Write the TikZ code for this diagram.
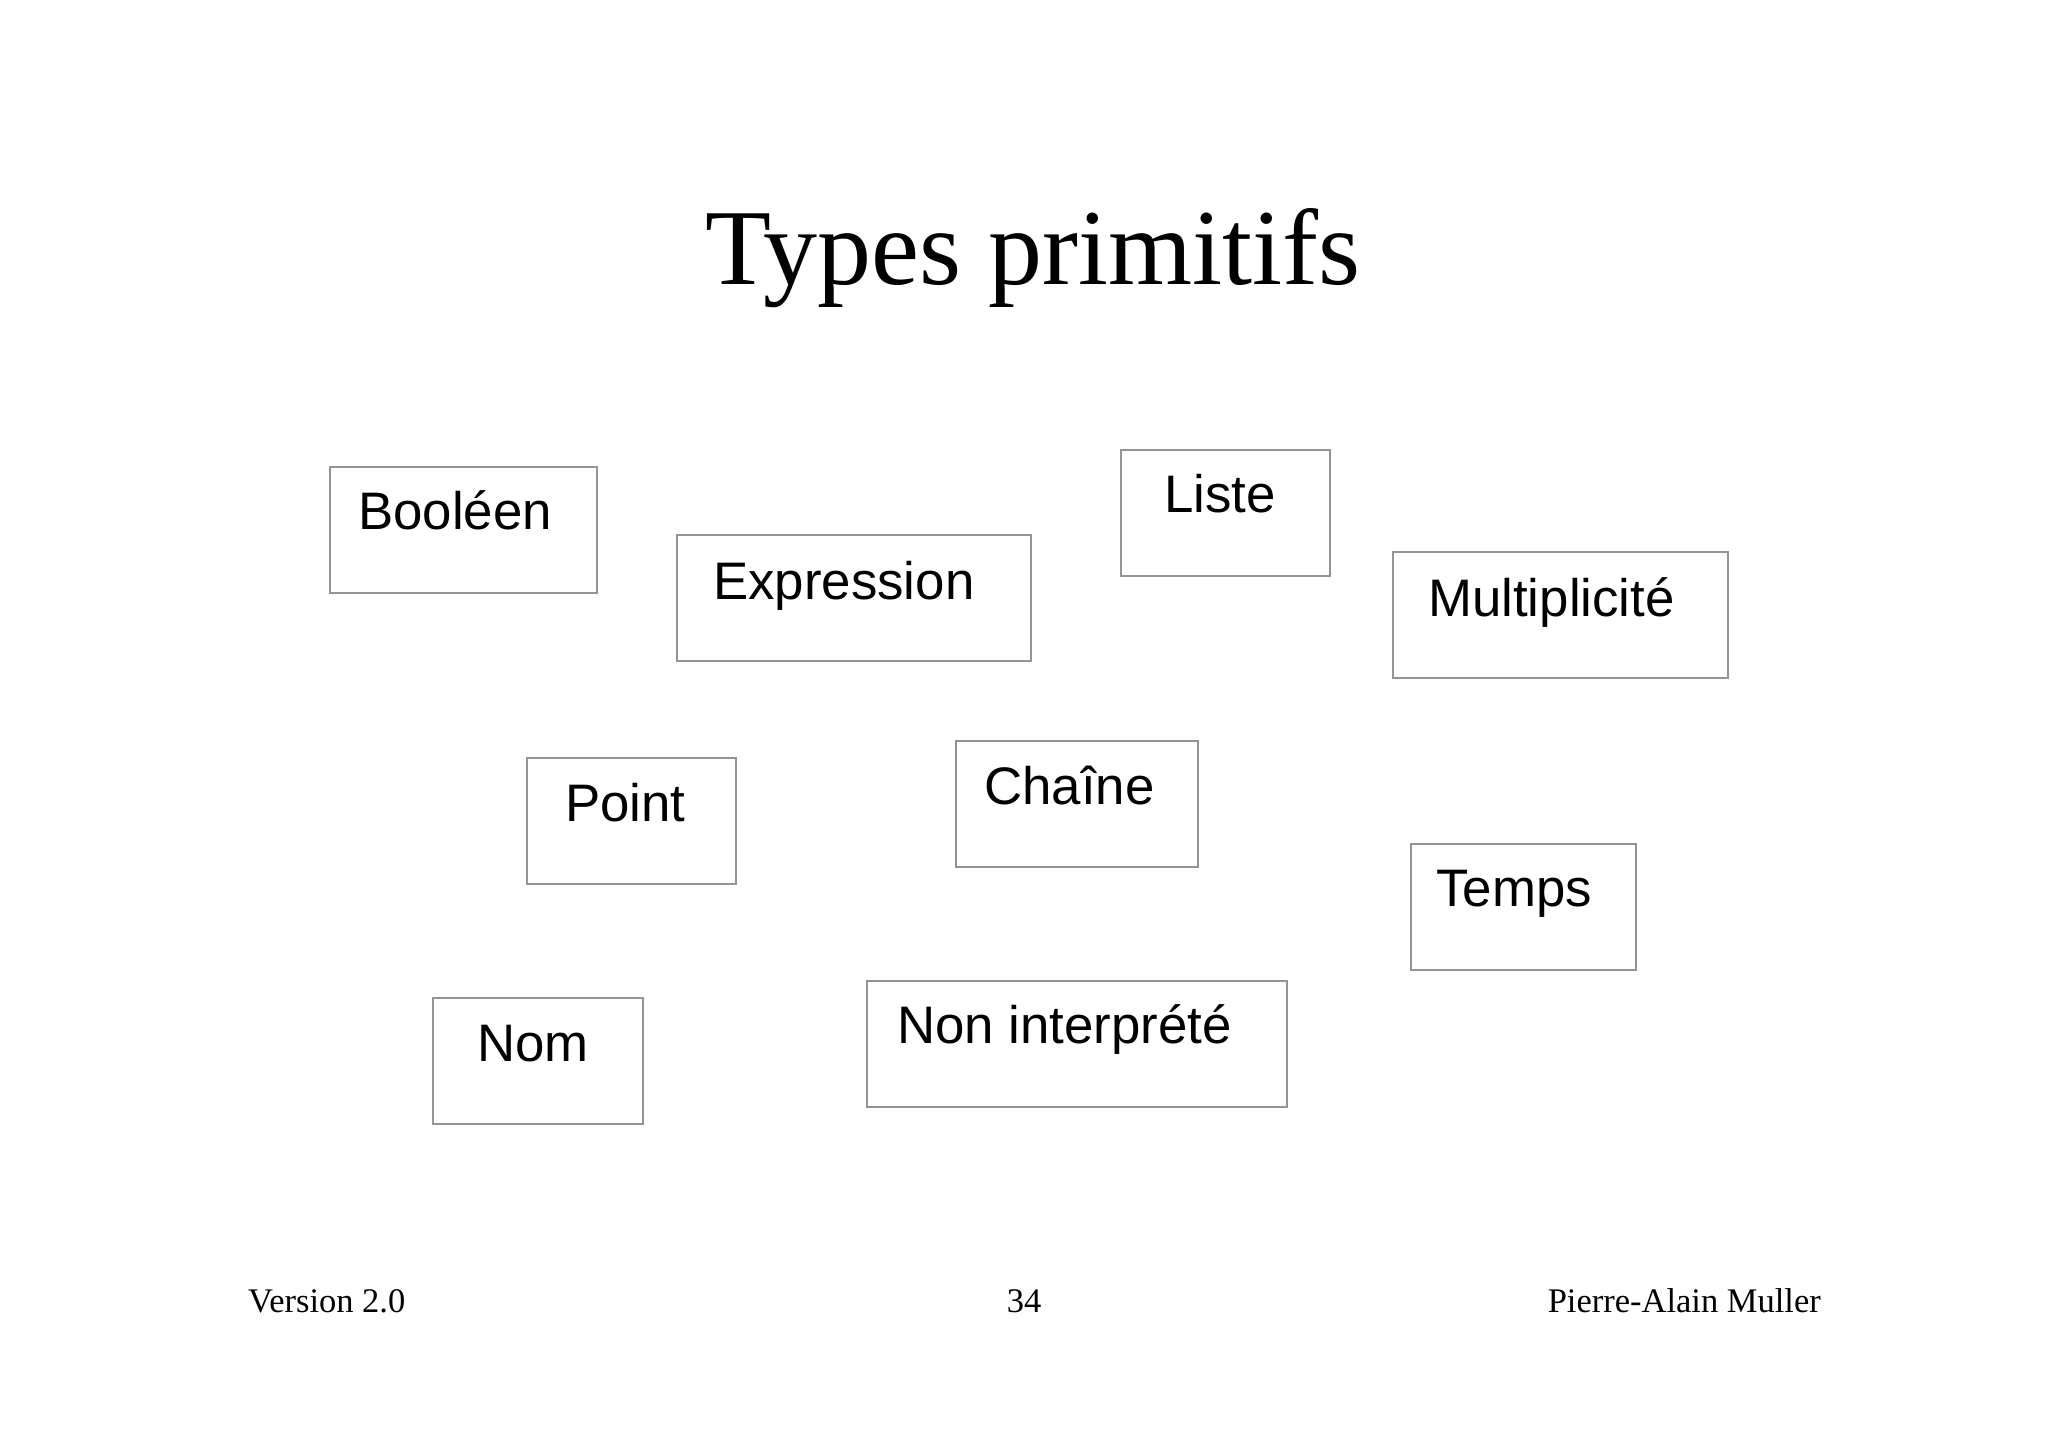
\documentclass[tikz,border=0pt]{standalone}
\usepackage{fontspec}
\setmainfont{Liberation Serif}
\newfontfamily\boxfont{Liberation Sans}
\usepackage{tikz}

\begin{document}
\begin{tikzpicture}[x=1pt,y=-1pt,
   tbox/.style={draw=black!42,line width=1.5,minimum height=126,anchor=north west,inner sep=0,outer sep=0},
   tlbl/.style={anchor=base west,inner sep=0,font=\boxfont\fontsize{52.8}{62}\selectfont},
   foot/.style={inner sep=0,font=\fontsize{34.5}{40}\selectfont}]
   \useasboundingbox (0,0) rectangle (2048,1447);
   \node[anchor=base,inner sep=0,font=\fontsize{108}{120}\selectfont] (title) at (1033,285) {Types primitifs};
   % les boites
   \node[tbox,minimum width=267] (bool)   at (330,467)  {};
   \node[tbox,minimum width=354] (expr)   at (677,535)  {};
   \node[tbox,minimum width=209] (liste)  at (1121,450) {};
   \node[tbox,minimum width=335] (multi)  at (1393,552) {};
   \node[tbox,minimum width=209] (point)  at (527,758)  {};
   \node[tbox,minimum width=242] (chaine) at (956,741)  {};
   \node[tbox,minimum width=225] (temps)  at (1411,844) {};
   \node[tbox,minimum width=210] (nom)    at (433,998)  {};
   \node[tbox,minimum width=420] (nonint) at (867,981)  {};
   % les textes
   \node[tlbl] (boolT)   at (358,529)  {Booléen};
   \node[tlbl] (exprT)   at (713,599)  {Expression};
   \node[tlbl] (listeT)  at (1164,512) {Liste};
   \node[tlbl] (multiT)  at (1428,616) {Multiplicité};
   \node[tlbl] (pointT)  at (565,821)  {Point};
   \node[tlbl] (chaineT) at (984,804)  {Chaîne};
   \node[tlbl] (tempsT)  at (1436,906) {Temps};
   \node[tlbl] (nomT)    at (477,1061) {Nom};
   \node[tlbl] (nonintT) at (897,1043) {Non interprété};
   % pied de page
   \node[foot,anchor=base west] (version) at (248,1312)  {Version 2.0};
   \node[foot,anchor=base]      (page)    at (1024,1312) {34};
   \node[foot,anchor=base east] (auteur)  at (1821,1312) {Pierre-Alain Muller};
\end{tikzpicture}
\end{document}
